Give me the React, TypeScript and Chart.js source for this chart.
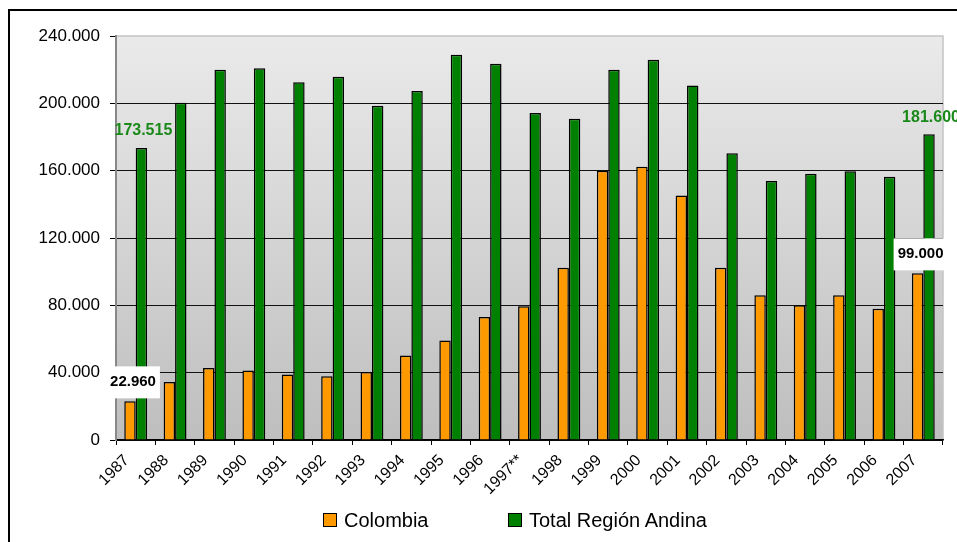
import React, { useEffect, useRef } from 'react';
import { Chart, registerables } from 'chart.js';

Chart.register(...registerables);

const years = ['1987', '1988', '1989', '1990', '1991', '1992', '1993', '1994', '1995', '1996', '1997**', '1998', '1999', '2000', '2001', '2002', '2003', '2004', '2005', '2006', '2007'];
const colombia = [22960, 34500, 42800, 41300, 38900, 37900, 40400, 50200, 59100, 73000, 79500, 102300, 160000, 162300, 145300, 102300, 86000, 80000, 86000, 78000, 99000];
const andina = [173515, 200400, 220000, 220800, 212500, 215800, 198600, 207300, 228900, 223500, 194200, 190900, 220000, 225900, 210600, 170300, 153800, 158100, 159700, 156400, 181600];
const seriesNames = ['Colombia', 'Total Región Andina'];
const seriesColors = ['#FF9900', '#008000'];
const labeledIndices = [0, 20];
const yMax = 240000;
const yStep = 40000;

const FONT = '"Liberation Sans", Arial, Helvetica, sans-serif';

const fmt = (v: number) => Math.round(v).toString().replace(/\B(?=(\d{3})+(?!\d))/g, '.');

const bgPlugin = {
  id: 'plotBg',
  beforeDraw(chart: any) {
    const { ctx, chartArea } = chart;
    const { left, top, right, bottom } = chartArea;
    ctx.save();
    const g = ctx.createLinearGradient(0, top, 0, bottom);
    g.addColorStop(0, '#eaeaea');
    g.addColorStop(1, '#bebebe');
    ctx.fillStyle = g;
    ctx.fillRect(left, top, right - left, bottom - top);
    ctx.strokeStyle = '#c4c4c4';
    ctx.lineWidth = 1.5;
    ctx.beginPath();
    ctx.moveTo(left, top);
    ctx.lineTo(right, top);
    ctx.lineTo(right, bottom);
    ctx.stroke();
    ctx.restore();
  },
};

const labelPlugin = {
  id: 'valueLabels',
  afterDatasetsDraw(chart: any) {
    const { ctx } = chart;
    ctx.save();
    ctx.font = `bold 15px ${FONT}`;
    ctx.textAlign = 'center';
    ctx.textBaseline = 'middle';
    labeledIndices.forEach((i) => {
      const o = chart.getDatasetMeta(0).data[i];
      const gr = chart.getDatasetMeta(1).data[i];
      const t1 = fmt(colombia[i]);
      const w = ctx.measureText(t1).width + 8;
      const h = 32;
      const cx = o.x + 3;
      const cy = o.y - 19;
      ctx.fillStyle = '#ffffff';
      ctx.fillRect(cx - w / 2, cy - h / 2, w, h);
      ctx.fillStyle = '#000000';
      ctx.fillText(t1, cx, cy);
      ctx.font = `bold 16px ${FONT}`;
      ctx.fillStyle = '#1b8a1b';
      ctx.fillText(fmt(andina[i]), gr.x + 2, gr.y - 17);
      ctx.font = `bold 15px ${FONT}`;
    });
    ctx.restore();
  },
};

export default function App() {
  const ref = useRef<HTMLCanvasElement | null>(null);

  useEffect(() => {
    if (!ref.current) return;
    const chart = new Chart(ref.current, {
      type: 'bar',
      data: {
        labels: years,
        datasets: [
          {
            label: seriesNames[0],
            data: colombia,
            backgroundColor: seriesColors[0],
            borderColor: '#000',
            borderWidth: 1.5,
            categoryPercentage: 0.58,
            barPercentage: 1,
          },
          {
            label: seriesNames[1],
            data: andina,
            backgroundColor: seriesColors[1],
            borderColor: '#000',
            borderWidth: 1.5,
            categoryPercentage: 0.58,
            barPercentage: 1,
          },
        ],
      },
      options: {
        animation: false,
        responsive: true,
        maintainAspectRatio: false,
        layout: { padding: { left: 0, right: 14, top: 25, bottom: 0 } },
        plugins: {
          legend: { display: false },
          tooltip: { enabled: false },
        },
        scales: {
          x: {
            grid: {
              offset: true,
              drawOnChartArea: false,
              drawTicks: true,
              tickLength: 5,
              color: '#000',
            },
            border: { color: '#000', width: 1.5 },
            ticks: {
              color: '#000',
              font: { family: FONT, size: 16 },
              minRotation: 45,
              maxRotation: 45,
              autoSkip: false,
              padding: 6,
              labelOffset: -9,
            },
            afterFit(scale: any) {
              scale.height = 102;
            },
          },
          y: {
            min: 0,
            max: yMax,
            grid: {
              color: (c: any) => (c.tick && c.tick.value === yMax ? 'rgba(0,0,0,0)' : '#111'),
              tickColor: '#000',
              tickLength: 6,
              lineWidth: 1,
            },
            border: { color: '#888', width: 2 },
            ticks: {
              stepSize: yStep,
              color: '#000',
              font: { family: FONT, size: 17 },
              padding: 10,
              callback: (v: any) => fmt(Number(v)),
            },
            afterFit(scale: any) {
              scale.width = 106;
            },
          },
        },
      },
      plugins: [bgPlugin, labelPlugin],
    });
    return () => chart.destroy();
  }, []);

  return (
    <div
      style={{
        position: 'fixed',
        left: 8,
        top: 9,
        right: 0,
        bottom: 0,
        borderTop: '2px solid #000',
        borderLeft: '2px solid #000',
        background: '#fff',
      }}
    >
      <div style={{ position: 'absolute', left: 0, top: 0, width: 947, height: 531 }}>
        <canvas ref={ref} />
      </div>
      <div
        style={{
          position: 'absolute',
          left: 313,
          top: 499,
          height: 20,
          display: 'flex',
          alignItems: 'center',
          fontFamily: FONT,
          fontSize: 20,
          lineHeight: '20px',
          color: '#000',
          whiteSpace: 'nowrap',
        }}
      >
        {seriesNames.map((n, i) => (
          <div key={n} style={{ display: 'flex', alignItems: 'center', width: i === 0 ? 185 : 'auto' }}>
            <span
              style={{
                display: 'inline-block',
                width: 14,
                height: 14,
                boxSizing: 'border-box',
                background: seriesColors[i],
                border: '1px solid #000',
                marginRight: 7,
              }}
            />
            <span>{n}</span>
          </div>
        ))}
      </div>
    </div>
  );
}
